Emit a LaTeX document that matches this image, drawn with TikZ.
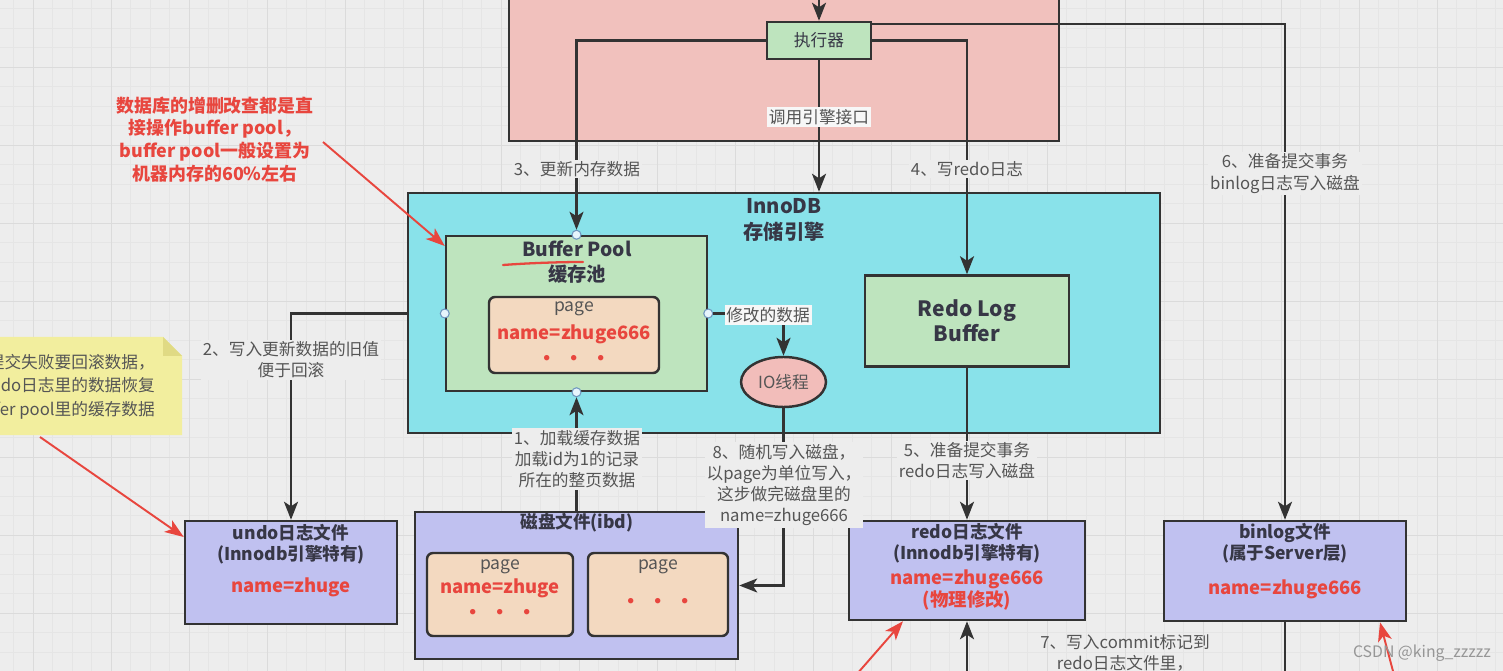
\documentclass[tikz,border=0pt]{standalone}
\usepackage{fontspec}
\setmainfont{Noto Sans CJK SC}
\usetikzlibrary{arrows.meta,shapes.geometric}

\definecolor{bgc}{RGB}{237,237,237}
\definecolor{gridc}{RGB}{229,229,229}
\definecolor{gridm}{RGB}{219,219,219}
\definecolor{linec}{RGB}{51,51,51}
\definecolor{srvc}{RGB}{241,193,189}
\definecolor{grnc}{RGB}{190,228,190}
\definecolor{cyac}{RGB}{137,226,234}
\definecolor{pagc}{RGB}{243,217,192}
\definecolor{filc}{RGB}{192,193,240}
\definecolor{ioc}{RGB}{242,189,186}
\definecolor{notc}{RGB}{242,238,158}
\definecolor{notd}{RGB}{224,218,132}
\definecolor{redc}{RGB}{232,70,62}
\definecolor{txtc}{RGB}{85,85,85}
\definecolor{ttlc}{RGB}{55,55,70}
\definecolor{dotc}{RGB}{230,244,252}
\definecolor{dotd}{RGB}{110,150,190}
\definecolor{lblc}{RGB}{247,247,247}
\definecolor{wmc}{RGB}{150,150,150}

\newdimen\px \px=0.2mm

\tikzset{
  box/.style={draw=linec, line width=1.4pt, inner sep=0pt},
  arr/.style={draw=linec, line width=1.4pt, -{Stealth[length=3.6mm,width=2.8mm,inset=0.9mm]}},
  ln/.style={draw=linec, line width=1.4pt},
  redarr/.style={draw=redc, line width=1.1pt, -{Stealth[length=3.8mm,width=2.8mm,inset=1mm]}},
  lbl/.style={fill=bgc, text=txtc, font=\fontsize{9.5}{12}\selectfont, align=center, inner sep=1pt},
  ttl/.style={text=ttlc, font=\fontsize{10}{12}\selectfont\bfseries, align=center},
  nm/.style={text=redc, font=\fontsize{10.5}{12}\selectfont\bfseries, align=center},
  pg/.style={text=txtc, font=\fontsize{10}{12}\selectfont},
  dots/.style={text=redc, font=\fontsize{11}{12}\selectfont\bfseries},
  cp/.style={circle, draw=dotd, fill=dotc, line width=0.6pt, minimum size=9\px, inner sep=0pt},
}

\begin{document}
\begin{tikzpicture}[x=0.2mm, y=-0.2mm]
\useasboundingbox (0,0) rectangle (1503,671);
\clip (0,0) rectangle (1503,671);
\fill[bgc] (0,0) rectangle (1503,671);
% grid
\foreach \gx in {13.5,33,...,1503} \draw[gridc, line width=0.3pt] (\gx,0) -- (\gx,671);
\foreach \gy in {8.5,28,...,671} \draw[gridc, line width=0.3pt] (0,\gy) -- (1503,\gy);
\foreach \gx in {33,111,...,1503} \draw[gridm, line width=0.4pt] (\gx,0) -- (\gx,671);
\foreach \gy in {67,145,...,671} \draw[gridm, line width=0.4pt] (0,\gy) -- (1503,\gy);

% server layer
\node[box, fill=srvc, minimum width=550\px, minimum height=170\px] (server) at (784,56) {};
\node[box, fill=grnc, minimum width=104\px, minimum height=37\px, text=ttlc, font=\fontsize{9.5}{11}\selectfont] (exec) at (819,40.5) {执行器};

% innodb
\node[box, fill=cyac, minimum width=752\px, minimum height=240\px] (innodb) at (784,313) {};
\node[ttl, font=\fontsize{11.5}{14.5}\selectfont\bfseries] (innottl) at (784,220) {InnoDB\\存储引擎};

\node[box, fill=grnc, minimum width=261\px, minimum height=155\px] (bp) at (576.5,313.5) {};
\node[ttl, font=\fontsize{11}{14}\selectfont\bfseries] (bpttl) at (577,262) {Buffer Pool\\缓存池};
\draw[redc, line width=1.3pt, line cap=round] (503,265) .. controls (530,263) and (560,262) .. (583,262);
\node[box, fill=pagc, rounded corners=1.2mm, minimum width=170\px, minimum height=76\px] (bppage) at (574,335) {};
\node[pg] (bppg) at (574,309) {page};
\node[nm] (bpnm) at (574,334) {name=zhuge666};
\node[dots] (bpdots) at (574,360) {·\hspace{1.6mm}·\hspace{1.6mm}·};

\node[box, fill=grnc, minimum width=204\px, minimum height=91\px, text=ttlc, font=\fontsize{12}{14}\selectfont\bfseries, align=center] (rlb) at (967,321) {Redo Log\\Buffer};
\node[ellipse, box, fill=ioc, minimum width=85\px, minimum height=50\px, text=txtc, font=\fontsize{9.5}{11}\selectfont] (io) at (783.5,382) {IO线程};

\node[cp] (cpn) at (bp.north) {};
\node[cp] (cps) at (bp.south) {};
\node[cp] (cpw) at (bp.west) {};
\node[cp] (cpe) at (bp.east) {};

% files
\node[box, fill=filc, minimum width=212\px, minimum height=103\px] (undo) at (291,572.5) {};
\node[ttl] (undottl) at (291,544) {undo日志文件\\(Innodb引擎特有)};
\node[nm] (undonm) at (291,587) {name=zhuge};

\node[box, fill=filc, minimum width=323\px, minimum height=147\px] (disk) at (576.5,585.5) {};
\node[ttl] (diskttl) at (577,523) {磁盘文件(ibd)};
\node[box, fill=pagc, rounded corners=1.2mm, minimum width=146\px, minimum height=83\px] (dpage1) at (500,594.5) {};
\node[pg] (dpg1) at (500,567) {page};
\node[nm] (dnm1) at (500,588) {name=zhuge};
\node[dots] (ddots1) at (500,614) {·\hspace{1.6mm}·\hspace{1.6mm}·};
\node[box, fill=pagc, rounded corners=1.2mm, minimum width=140\px, minimum height=83\px] (dpage2) at (658,594.5) {};
\node[pg] (dpg2) at (658,567) {page};
\node[dots] (ddots2) at (658,603) {·\hspace{1.6mm}·\hspace{1.6mm}·};

\node[box, fill=filc, minimum width=236\px, minimum height=99\px] (redo) at (967,570.5) {};
\node[ttl] (redottl) at (967,543) {redo日志文件\\(Innodb引擎特有)};
\node[nm] (redonm) at (967,590) {name=zhuge666\\(物理修改)};

\node[box, fill=filc, minimum width=242\px, minimum height=100\px] (binlog) at (1285,571) {};
\node[ttl] (binttl) at (1285,543) {binlog文件\\(属于Server层)};
\node[nm] (binnm) at (1285,589) {name=zhuge666};

% note
\fill[notc] (-10,337) -- (163,337) -- (182,356) -- (182,435) -- (-10,435) -- cycle;
\fill[notd] (163,337) -- (163,356) -- (182,356) -- cycle;
\node[text=txtc, font=\fontsize{9.5}{13.3}\selectfont, align=right, anchor=east] (note) at (161,386.5) {提交失败要回滚数据，\\undo日志里的数据恢复\\buffer pool里的缓存数据};

% connectors
\coordinate (topin) at (819,-10);
\coordinate (redoin) at (967,690);
\coordinate (binout) at (1285,690);
\draw[arr] (topin) -- (exec.north);
\draw[arr] (exec.east |- 0,24) -| (binlog.north);
\draw[arr] (exec.east) -| (rlb.north);
\draw[arr] (exec.west) -| (cpn);
\draw[arr] (exec.south) -- (exec.south |- innodb.north);
\draw[arr] (innodb.west |- cpw) -| (undo.north);
\draw[arr] (cpe) -| (io.north);
\draw[arr] (io.south) |- (disk.east);
\draw[arr] (disk.north) -- (cps);
\draw[arr] (rlb.south) -- (redo.north);
\draw[arr] (redoin) -- (redo.south);
\draw[ln] (binlog.south) -- (binout);

% labels
\node[lbl] (l3) at (577,169) {3、更新内存数据};
\node[lbl] (l4) at (967,169) {4、写redo日志};
\node[lbl, fill=lblc] (lcall) at (819,117) {调用引擎接口};
\node[lbl] (l6) at (1285,173.5) {6、准备提交事务\\binlog日志写入磁盘};
\node[lbl] (l2) at (291,360) {2、写入更新数据的旧值\\便于回滚};
\node[lbl, fill=lblc] (lmod) at (768,315) {修改的数据};
\node[lbl] (l1) at (577,459) {1、加载缓存数据\\加载id为1的记录\\所在的整页数据};
\node[lbl] (l8) at (784,485) {8、随机写入磁盘，\\以page为单位写入，\\这步做完磁盘里的\\name=zhuge666};
\node[lbl] (l5) at (967,460.5) {5、准备提交事务\\redo日志写入磁盘};
\node[lbl, fill=none] (l7) at (1125,653) {7、写入commit标记到\\redo日志文件里，};

% red remarks
\node[text=redc, font=\fontsize{10.2}{13}\selectfont\bfseries, align=center] (redtxt) at (215,139.5) {数据库的增删改查都是直\\接操作buffer pool，\\buffer pool一般设置为\\机器内存的60\%左右};
\coordinate (redtail) at (323,142);
\coordinate (notetail) at (40,437);
\coordinate (rt1) at (843,690);
\coordinate (rt2) at (1398,690);
\draw[redarr] (redtail) -- (bp.west |- 0,246);
\draw[redarr] (notetail) -- (undo.west |- 0,537);
\draw[redarr] (rt1) -- (redo.south -| 903,0);
\draw[redarr] (rt2) -- (binlog.south -| 1380,0);

\node[text=wmc, font=\fontsize{9}{11}\selectfont] (wm) at (1422,653) {CSDN @king\_zzzzz};
\end{tikzpicture}
\end{document}
